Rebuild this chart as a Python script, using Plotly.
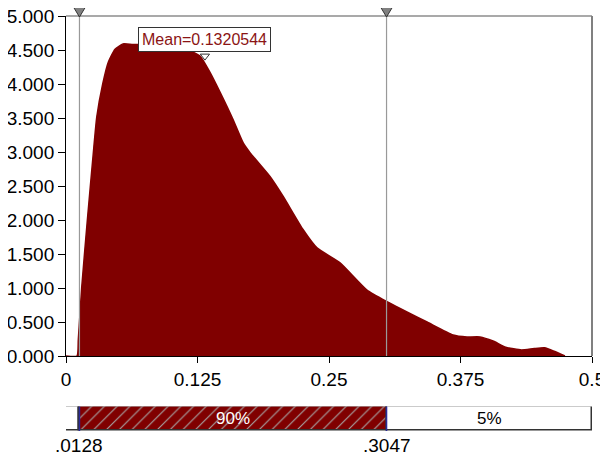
import plotly.graph_objects as go

# Density curve
x_vals = [0.0, 0.0105, 0.0117, 0.0149, 0.0202, 0.026, 0.0292, 0.0349, 0.0402, 0.0466, 0.0542,
          0.0637, 0.08, 0.095, 0.11, 0.12, 0.1274, 0.1369, 0.1464, 0.1587, 0.1682, 0.1749,
          0.1939, 0.2063, 0.2253, 0.2386, 0.2605, 0.2861, 0.3051, 0.3432, 0.3679, 0.3812,
          0.3935, 0.4059, 0.418, 0.433, 0.445, 0.455, 0.464, 0.4743]
y_vals = [0.0, 0.0, 0.24, 1.0, 1.98, 2.99, 3.51, 4.0, 4.32, 4.51, 4.59,
          4.58, 4.58, 4.57, 4.52, 4.47, 4.41, 4.17, 3.88, 3.48, 3.14, 2.99,
          2.64, 2.35, 1.86, 1.59, 1.37, 0.97, 0.80, 0.50, 0.31, 0.28,
          0.28, 0.22, 0.13, 0.09, 0.11, 0.12, 0.07, 0.0]

mean_value = 0.1320544
lower = 0.0128
upper = 0.3047

x_tick_vals = [0, 0.125, 0.25, 0.375, 0.5]
x_tick_text = ["0", "0.125", "0.25", "0.375", "0.5"]
y_tick_vals = [0, 0.5, 1, 1.5, 2, 2.5, 3, 3.5, 4, 4.5, 5]
y_tick_text = ["%.3f" % v for v in y_tick_vals]

seg_start = [0.0, lower, upper]
seg_end = [lower, upper, 0.5]
seg_text = ["", "90%", "5%"]
bar_tick_text = [".0128", ".3047"]

DARK_RED = "#800000"
FONT = "Liberation Sans"
Y_MAX = 5

fig = go.Figure()

fig.add_trace(go.Scatter(
    x=x_vals, y=y_vals, mode="lines", line=dict(color=DARK_RED, width=1.5, shape="spline", smoothing=0.5),
    fill="tozeroy", fillcolor=DARK_RED, hoverinfo="skip", showlegend=False, xaxis="x", yaxis="y"))

# mean marker
fig.add_trace(go.Scatter(
    x=[mean_value], y=[4.41], mode="markers", cliponaxis=False,
    marker=dict(symbol="triangle-down", size=8, color="white", line=dict(color="#333333", width=1)),
    showlegend=False, hoverinfo="skip", xaxis="x", yaxis="y"))

# bottom bar segments
for i in range(3):
    hatched = (i == 1)
    marker = dict(color="white", line=dict(color="#333333", width=1.5))
    if hatched:
        marker = dict(color=DARK_RED, line=dict(color="#333333", width=1.5),
                      pattern=dict(shape="/", bgcolor=DARK_RED, fgcolor="#a8a8a8", size=9, solidity=0.12,
                                   fillmode="replace"))
    fig.add_trace(go.Bar(
        y=[0], x=[seg_end[i] - seg_start[i]], base=[seg_start[i]], orientation="h", width=1,
        marker=marker, cliponaxis=False,
        showlegend=False, hoverinfo="skip", xaxis="x2", yaxis="y2"))

annotations = []
text_colors = ["black", "white", "black"]
for i in range(3):
    if seg_text[i]:
        annotations.append(dict(x=(seg_start[i] + seg_end[i]) / 2, y=0, xref="x2", yref="y2",
                                text=seg_text[i], showarrow=False, xanchor="center", yanchor="middle",
                                font=dict(family=FONT, size=17, color=text_colors[i])))
for v, t in zip((lower, upper), bar_tick_text):
    annotations.append(dict(x=v, y=0, xref="x2", yref="y2 domain", text=t, showarrow=False,
                            xanchor="center", yanchor="top", yshift=-2,
                            font=dict(family=FONT, size=19, color="black")))
annotations.append(dict(x=mean_value, y=4.47, xref="x", yref="y", xanchor="center", yanchor="bottom",
                        text="Mean=0.1320544", showarrow=False,
                        font=dict(family=FONT, size=16, color="#8B1414"),
                        bgcolor="white", bordercolor="#333333", borderwidth=1, borderpad=3))

shapes = []
for v in (lower, upper):
    shapes.append(dict(type="line", xref="x", yref="y domain", x0=v, x1=v, y0=0, y1=1,
                       line=dict(color="#999999", width=1.2), layer="above"))
    shapes.append(dict(type="line", xref="x2", yref="y2 domain", x0=v, x1=v, y0=0, y1=1,
                       line=dict(color="#2a2a9a", width=1.5), layer="above"))
shapes.append(dict(type="line", xref="x domain", yref="y domain", x0=0, x1=1, y0=1, y1=1,
                   line=dict(color="#555555", width=1.2)))
shapes.append(dict(type="line", xref="x domain", yref="y domain", x0=1, x1=1, y0=0, y1=1,
                   line=dict(color="#808080", width=2)))
# bound markers (downward triangles sitting on the top border)
for v in (lower, upper):
    shapes.append(dict(type="path", xref="x", yref="paper", xsizemode="pixel", ysizemode="pixel",
                       xanchor=v, yanchor=1, path="M -6 9 L 6 9 L 0 -1 Z",
                       fillcolor="#808080", line=dict(color="#333333", width=1), layer="above"))

fig.update_layout(
    width=600, height=449,
    margin=dict(l=58, r=16, t=8, b=26, autoexpand=False),
    plot_bgcolor="white", paper_bgcolor="white",
    font=dict(family=FONT, size=19, color="black"),
    barmode="overlay",
    bargap=0,
    shapes=shapes,
    annotations=annotations,
    xaxis=dict(domain=[0, 1], range=[0, 0.5], anchor="y", tickvals=x_tick_vals, ticktext=x_tick_text,
               ticks="outside", ticklen=6, tickcolor="black", showline=True, linecolor="black",
               linewidth=1, showgrid=False, zeroline=False, automargin=False, ticklabeloverflow="allow",
               tickfont=dict(family=FONT, size=19)),
    yaxis=dict(domain=[0.1807, 1], range=[0, Y_MAX], tickvals=y_tick_vals, ticktext=y_tick_text,
               ticks="outside", ticklen=7, tickcolor="black", showline=True, linecolor="black",
               linewidth=1, showgrid=False, zeroline=False, automargin=False, ticklabeloverflow="allow",
               tickfont=dict(family=FONT, size=19)),
    xaxis2=dict(domain=[0, 1], range=[0, 0.5], anchor="y2", showticklabels=False, ticks="",
                showline=False, showgrid=False, zeroline=False, automargin=False),
    yaxis2=dict(domain=[0, 0.059], range=[-0.5, 0.5], visible=False, fixedrange=True, automargin=False),
)

fig.write_html("out.html")
